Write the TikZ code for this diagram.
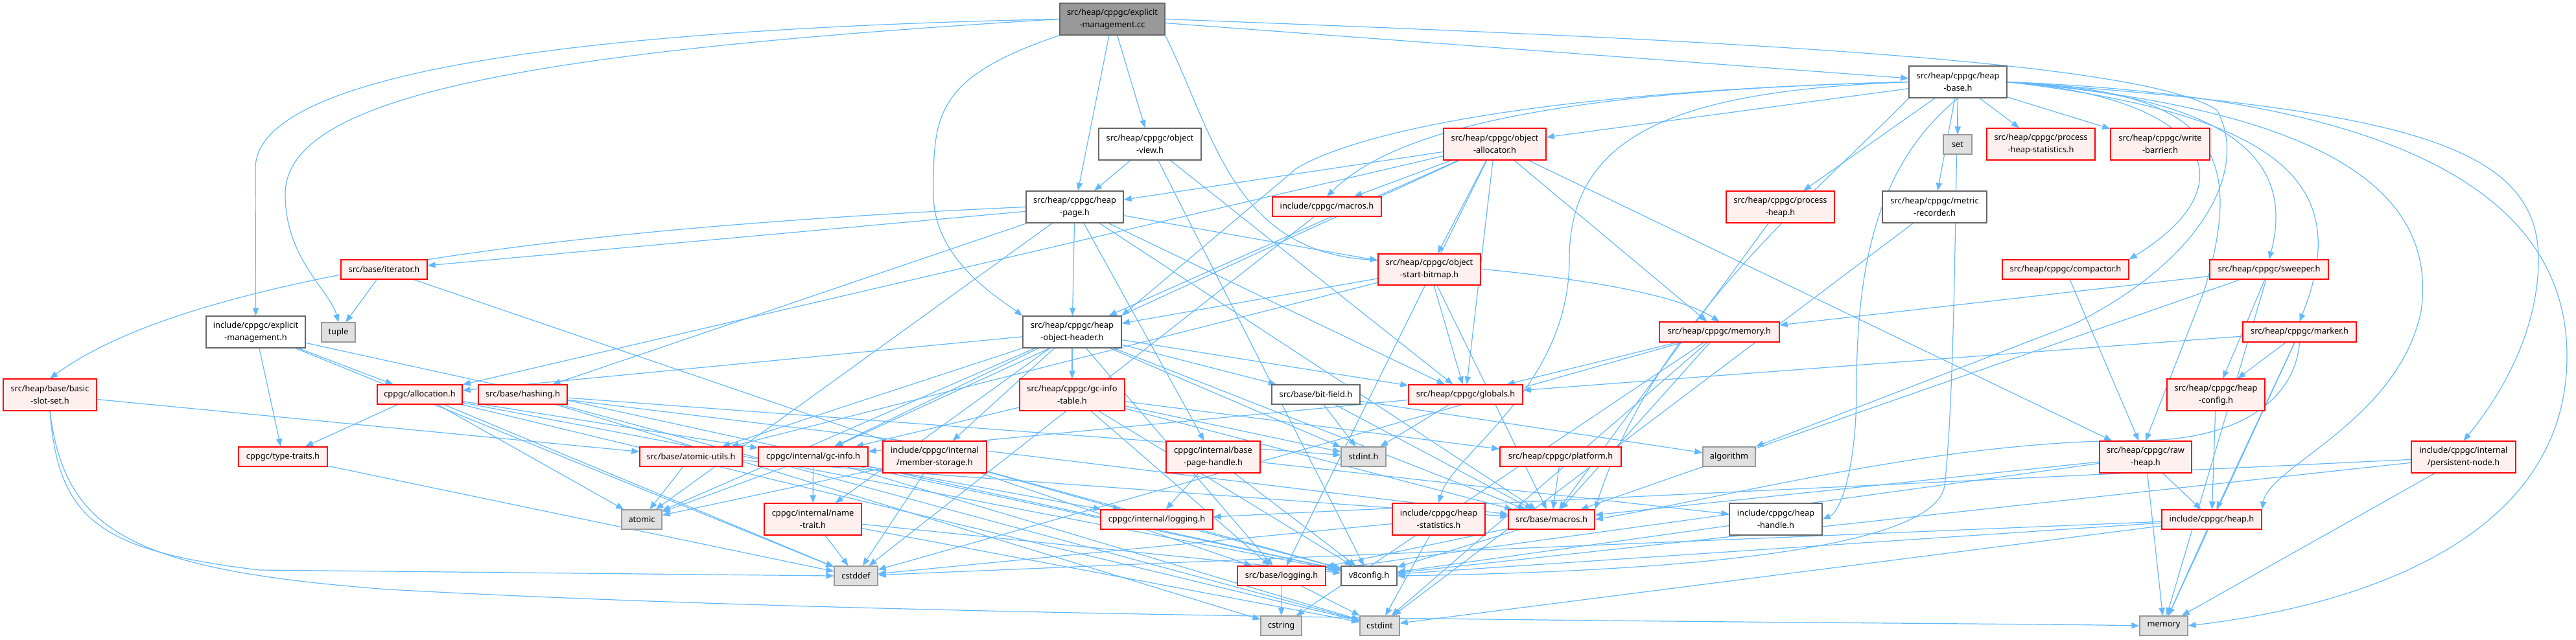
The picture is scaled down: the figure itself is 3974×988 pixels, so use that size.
\documentclass[tikz,border=0pt]{standalone}
\usepackage{fontspec}
\setmainfont{Noto Sans}
\usetikzlibrary{arrows.meta}
\pgfdeclarelayer{bg}
\pgfsetlayers{bg,main}
\definecolor{edgec}{HTML}{63B8FF}
\definecolor{nodegray}{HTML}{666666}
\definecolor{redfill}{HTML}{FFF0F0}
\definecolor{sysfill}{HTML}{E0E0E0}
\definecolor{sysborder}{HTML}{999999}
\definecolor{rootfill}{HTML}{999999}
\tikzset{
  dxbox/.style={rectangle, inner sep=0pt, align=center, font=\fontsize{9.6}{14.25}\selectfont, line width=1pt},
  wnode/.style={dxbox, draw=nodegray, fill=white},
  rnode/.style={dxbox, draw=red, fill=redfill},
  gnode/.style={dxbox, draw=sysborder, fill=sysfill},
  rootnode/.style={dxbox, draw=nodegray, fill=rootfill},
  e/.style={draw=edgec, line width=0.9pt, -{Triangle[length=9pt,width=7pt]}},
}
\newcommand\nd[7]{\node[#2, minimum width={(#5-#3)*0.75pt}, minimum height={(#6-#4)*0.75pt}] (#1) at ({(#3+#5)/2},{(#4+#6)/2}) {#7};}
\begin{document}
\begin{tikzpicture}[x=0.75pt,y=-0.75pt]
\useasboundingbox (0,0) rectangle (3974,988);
% nodes
\nd{root}{rootnode}{1635}{5}{1797}{54}{src/heap/cppgc/explicit\\-management.cc}
\nd{heapbase}{wnode}{2945}{102}{3096}{151}{src/heap/cppgc/heap\\-base.h}
\nd{objview}{wnode}{1695}{198}{1853}{247}{src/heap/cppgc/object\\-view.h}
\nd{objalloc}{rnode}{2227}{198}{2385}{247}{src/heap/cppgc/object\\-allocator.h}
\nd{set}{gnode}{2998}{208}{3042}{238}{set}
\nd{phstats}{rnode}{3065}{198}{3232}{247}{src/heap/cppgc/process\\-heap-statistics.h}
\nd{wbarrier}{rnode}{3256}{198}{3409}{247}{src/heap/cppgc/write\\-barrier.h}
\nd{heappage}{wnode}{1583}{295}{1733}{344}{src/heap/cppgc/heap\\-page.h}
\nd{imacros}{rnode}{1963}{304}{2131}{334}{include/cppgc/macros.h}
\nd{processheap}{rnode}{2663}{295}{2830}{344}{src/heap/cppgc/process\\-heap.h}
\nd{metricrec}{wnode}{2904}{295}{3065}{344}{src/heap/cppgc/metric\\-recorder.h}
\nd{iterator}{rnode}{526}{401}{659}{431}{src/base/iterator.h}
\nd{bitmap}{rnode}{2126}{392}{2284}{440}{src/heap/cppgc/object\\-start-bitmap.h}
\nd{compactor}{rnode}{3089}{401}{3284}{431}{src/heap/cppgc/compactor.h}
\nd{sweeper}{rnode}{3409}{401}{3592}{431}{src/heap/cppgc/sweeper.h}
\nd{expmgmt}{wnode}{318}{488}{471}{537}{include/cppgc/explicit\\-management.h}
\nd{tuple}{gnode}{496}{498}{548}{528}{tuple}
\nd{objheader}{wnode}{1578}{488}{1730}{537}{src/heap/cppgc/heap\\-object-header.h}
\nd{memoryh}{rnode}{2560}{497}{2745}{528}{src/heap/cppgc/memory.h}
\nd{marker}{rnode}{3460}{497}{3635}{528}{src/heap/cppgc/marker.h}
\nd{basicslot}{rnode}{5}{585}{149}{634}{src/heap/base/basic\\-slot-set.h}
\nd{allocation}{rnode}{582}{594}{713}{624}{cppgc/allocation.h}
\nd{hashing}{rnode}{738}{594}{875}{624}{src/base/hashing.h}
\nd{gcinfotable}{rnode}{1573}{585}{1735}{634}{src/heap/cppgc/gc-info\\-table.h}
\nd{bitfield}{wnode}{1962}{594}{2098}{624}{src/base/bit-field.h}
\nd{globals}{rnode}{2173}{594}{2349}{624}{src/heap/cppgc/globals.h}
\nd{heapconfig}{rnode}{3343}{585}{3494}{634}{src/heap/cppgc/heap\\-config.h}
\nd{typetraits}{rnode}{368}{690}{505}{720}{cppgc/type-traits.h}
\nd{atomicutils}{rnode}{987}{690}{1145}{720}{src/base/atomic-utils.h}
\nd{gcinfo}{rnode}{1170}{690}{1339}{720}{cppgc/internal/gc-info.h}
\nd{memberstorage}{rnode}{1362}{681}{1522}{730}{include/cppgc/internal\\/member-storage.h}
\nd{basepage}{rnode}{1799}{681}{1944}{730}{cppgc/internal/base\\-page-handle.h}
\nd{stdinth}{gnode}{2069}{690}{2138}{720}{stdint.h}
\nd{platform}{rnode}{2314}{690}{2501}{720}{src/heap/cppgc/platform.h}
\nd{algorithm}{gnode}{2627}{690}{2708}{720}{algorithm}
\nd{rawheap}{rnode}{3239}{681}{3381}{730}{src/heap/cppgc/raw\\-heap.h}
\nd{persist}{rnode}{3720}{681}{3881}{730}{include/cppgc/internal\\/persistent-node.h}
\nd{atomic}{gnode}{959}{787}{1021}{817}{atomic}
\nd{nametrait}{rnode}{1179}{777}{1329}{826}{cppgc/internal/name\\-trait.h}
\nd{logging}{rnode}{1698}{787}{1871}{817}{cppgc/internal/logging.h}
\nd{heapstats}{rnode}{2148}{777}{2291}{826}{include/cppgc/heap\\-statistics.h}
\nd{bmacros}{rnode}{2327}{787}{2460}{817}{src/base/macros.h}
\nd{heaphandle}{wnode}{2668}{777}{2811}{826}{include/cppgc/heap\\-handle.h}
\nd{heaph}{rnode}{3335}{787}{3489}{817}{include/cppgc/heap.h}
\nd{cstddef}{gnode}{1287}{874}{1354}{904}{cstddef}
\nd{blogging}{rnode}{1909}{874}{2045}{904}{src/base/logging.h}
\nd{v8config}{wnode}{2069}{874}{2155}{904}{v8config.h}
\nd{cstring}{gnode}{1945}{951}{2008}{981}{cstring}
\nd{cstdint}{gnode}{2098}{951}{2159}{981}{cstdint}
\nd{memory}{gnode}{3301}{951}{3375}{981}{memory}
% edges
\begin{pgfonlayer}{bg}
\foreach \a/\b in {root/heapbase, root/heappage, root/objview,
 heapbase/set, heapbase/phstats, heapbase/wbarrier, heapbase/objalloc, heapbase/processheap, heapbase/metricrec,
 objview/heappage, objview/v8config, objview/globals,
 objalloc/heappage, objalloc/imacros, objalloc/allocation, objalloc/gcinfo, objalloc/objheader, objalloc/bitmap, objalloc/memoryh, objalloc/globals, objalloc/rawheap, objalloc/blogging,
 heappage/iterator, heappage/atomic, heappage/hashing, heappage/objheader, heappage/bitmap, heappage/globals, heappage/basepage, heappage/bmacros,
 imacros/cstddef, processheap/bmacros, metricrec/cstdint,
 iterator/tuple, iterator/blogging,
 bitmap/objheader, bitmap/atomicutils, bitmap/globals, bitmap/bmacros,
 compactor/rawheap,
 sweeper/memoryh, sweeper/bmacros, sweeper/heapconfig, sweeper/memory,
 expmgmt/allocation, expmgmt/typetraits, expmgmt/cstddef, expmgmt/v8config,
 objheader/stdinth, objheader/atomic, objheader/allocation, objheader/gcinfo, objheader/memberstorage, objheader/nametrait, objheader/atomicutils, objheader/bitfield, objheader/blogging, objheader/bmacros, objheader/gcinfotable, objheader/globals,
 memoryh/globals, memoryh/bmacros, memoryh/cstddef, memoryh/cstdint, memoryh/cstring,
 marker/globals, marker/heapconfig, marker/heaph, marker/memory,
 basicslot/atomicutils,
 allocation/atomic, allocation/cstddef, allocation/cstdint, allocation/gcinfo, allocation/typetraits, allocation/v8config,
 hashing/stdinth, hashing/bmacros, hashing/cstring, hashing/cstdint,
 gcinfotable/gcinfo, gcinfotable/blogging, gcinfotable/v8config, gcinfotable/stdinth, gcinfotable/platform, gcinfotable/bmacros,
 bitfield/stdinth, bitfield/algorithm, bitfield/bmacros,
 globals/stdinth, globals/gcinfo,
 heapconfig/heaph, typetraits/cstddef,
 atomicutils/atomic, atomicutils/bmacros,
 gcinfo/atomic, gcinfo/nametrait, gcinfo/cstdint, gcinfo/logging, gcinfo/v8config,
 memberstorage/atomic, memberstorage/cstddef, memberstorage/logging, memberstorage/v8config,
 basepage/logging, basepage/heaphandle, basepage/v8config,
 platform/bmacros,
 rawheap/memory, rawheap/heaph, rawheap/blogging, rawheap/bmacros,
 persist/logging, persist/memory, persist/v8config,
 nametrait/cstddef, nametrait/cstdint, nametrait/v8config,
 logging/v8config, heapstats/cstddef, heapstats/cstdint,
 bmacros/v8config, bmacros/blogging, heaphandle/v8config,
 heaph/cstddef, heaph/cstdint, heaph/memory, heaph/v8config,
 blogging/cstring, blogging/cstdint}
 {\draw[e] (\a) -- (\b);}
% curved long edges
\draw[e] (root.west) .. controls (900,45) and (394,110) .. (394,260) -- (expmgmt.north);
\draw[e] (root.west) .. controls (800,80) and (440,150) .. (440,300) .. controls (440,400) and (510,450) .. (tuple.north);
\draw[e] (root.south west) .. controls (1440,120) and (1440,180) .. (1440,300) .. controls (1440,400) and (1540,460) .. (objheader.north west);
\draw[e] (root.east) .. controls (2600,60) and (3300,90) .. (3420,170) .. controls (3470,260) and (3400,400) .. (3200,500) -- (algorithm.north east);
\draw[e] (root.south east) .. controls (1870,200) and (1900,380) .. (2100,400) .. controls (2400,420) and (2580,450) .. (memoryh.north);
\draw[e] (heappage.west) .. controls (900,350) and (300,420) .. (basicslot.north);
\draw[e] (marker.south) .. controls (3540,620) and (3450,680) .. (3300,680) .. controls (3000,680) and (2700,760) .. (bmacros.east);
\draw[e] (heapbase.east) .. controls (3700,150) and (3960,300) .. (3960,550) .. controls (3960,850) and (3600,940) .. (memory.east);
\draw[e] (heapbase.east) .. controls (3700,170) and (3916,220) .. (3916,400) .. controls (3916,520) and (3850,620) .. (persist.north);
\draw[e] (heapbase.east) .. controls (3600,170) and (3760,300) .. (3735,480) .. controls (3700,650) and (3500,720) .. (heaph.north east);
\draw[e] (heapbase.east) .. controls (3550,180) and (3625,300) .. (marker.north);
\draw[e] (heapbase.east) .. controls (3450,150) and (3540,250) .. (sweeper.north);
\draw[e] (heapbase.east) .. controls (3400,150) and (3480,280) .. (compactor.north east);
\draw[e] (heapbase.east) .. controls (3400,140) and (3470,220) .. (3400,450) -- (rawheap.north);
\draw[e] (heapbase.south) .. controls (3016,300) and (3016,600) .. (3000,750) .. controls (2980,870) and (2400,885) .. (v8config.east);
\draw[e] (heapbase.west) .. controls (2600,140) and (2421,200) .. (2421,400) .. controls (2421,600) and (2240,700) .. (heapstats.north);
\draw[e] (heapbase.west) .. controls (2400,140) and (2100,200) .. (2000,260) -- (objheader.north east);
\draw[e] (heapbase.west) .. controls (2400,140) and (2150,200) .. (imacros.north);
\draw[e] (heapbase.south west) .. controls (2800,300) and (2550,500) .. (bmacros.north east);
\draw[e] (heapbase.south) .. controls (2900,250) and (2864,400) .. (2864,600) .. controls (2864,720) and (2840,790) .. (heaphandle.east);
\draw[e] (basicslot.south) .. controls (90,800) and (150,850) .. (400,880) -- (cstddef.west);
\draw[e] (basicslot.south) .. controls (100,820) and (200,880) .. (600,910) .. controls (1500,960) and (3000,960) .. (memory.west);
\end{pgfonlayer}
\end{tikzpicture}
\end{document}
